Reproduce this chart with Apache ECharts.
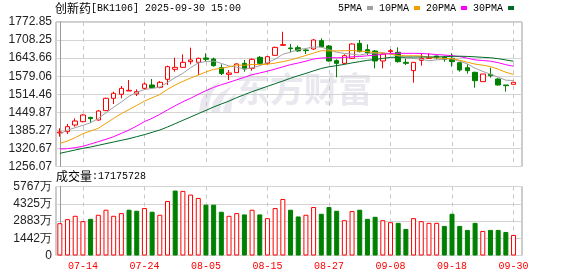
<!DOCTYPE html>
<html><head><meta charset="utf-8">
<script src="https://cdn.jsdelivr.net/npm/echarts@6/dist/echarts.min.js"></script>
<style>html,body{margin:0;padding:0;background:#fff}#c{width:578px;height:276px}</style>
</head><body><div id="c"></div>
<script>
const dates = ['07-09','07-10','07-11','07-14','07-15','07-16','07-17','07-18','07-21','07-22','07-23','07-24','07-25','07-28','07-29','07-30','07-31','08-01','08-04','08-05','08-06','08-07','08-08','08-11','08-12','08-13','08-14','08-15','08-18','08-19','08-20','08-21','08-22','08-25','08-26','08-27','08-28','08-29','09-01','09-02','09-03','09-04','09-05','09-08','09-09','09-10','09-11','09-12','09-15','09-16','09-17','09-18','09-19','09-22','09-23','09-24','09-25','09-26','09-29','09-30'];
const openP = [1376.0,1380.7,1404.5,1416.4,1431.9,1422.4,1455.8,1499.9,1514.2,1526.1,1515.4,1535.6,1547.6,1539.2,1567.8,1603.6,1610.7,1631.0,1628.6,1644.1,1640.5,1609.5,1585.7,1591.7,1625.0,1607.1,1646.5,1625.0,1653.6,1689.4,1679.9,1681.1,1672.7,1676.3,1706.1,1687.0,1634.6,1625.0,1642.9,1696.6,1673.9,1669.1,1633.4,1666.8,1664.4,1628.6,1598.8,1635.8,1643.0,1651.3,1646.5,1642.9,1627.4,1609.5,1592.9,1559.5,1585.7,1569.0,1547.6,1549.9];
const closeP = [1379.0,1398.6,1418.8,1440.3,1427.2,1454.6,1499.9,1517.8,1535.6,1528.5,1523.7,1551.1,1538.0,1557.1,1613.1,1610.7,1628.6,1636.9,1642.9,1639.3,1616.7,1588.5,1590.5,1622.7,1604.8,1639.3,1625.0,1648.9,1682.2,1691.8,1677.5,1669.5,1670.5,1708.5,1684.6,1633.4,1625.0,1652.4,1694.2,1666.8,1663.2,1633.4,1658.4,1670.3,1631.0,1625.0,1628.6,1642.9,1644.5,1645.5,1639.3,1631.0,1601.2,1598.8,1563.0,1586.9,1580.9,1547.6,1545.2,1557.1];
const lowP = [1362.8,1372.3,1398.6,1414.0,1412.8,1420.0,1454.6,1479.6,1499.9,1526.1,1508.2,1529.7,1535.6,1535.6,1547.6,1595.2,1609.5,1621.5,1583.3,1631.0,1613.1,1583.3,1565.4,1591.7,1595.2,1598.8,1621.5,1621.5,1652.4,1689.4,1664.4,1666.0,1658.4,1672.7,1682.2,1631.0,1575.0,1621.5,1640.5,1664.4,1654.8,1607.1,1607.1,1660.8,1627.4,1619.1,1555.9,1616.7,1641.0,1640.0,1631.0,1613.1,1595.2,1588.1,1538.0,1559.5,1573.8,1545.2,1523.7,1549.9];
const highP = [1392.6,1408.1,1428.4,1442.7,1433.1,1458.2,1502.3,1523.7,1544.0,1565.4,1532.1,1557.1,1569.0,1561.9,1616.7,1645.3,1657.2,1681.1,1645.3,1660.8,1645.3,1621.5,1601.2,1625.0,1636.9,1642.9,1651.3,1651.3,1684.6,1738.0,1694.2,1688.2,1675.1,1712.0,1714.4,1690.6,1639.3,1657.2,1696.6,1708.5,1693.0,1672.7,1660.8,1676.3,1682.2,1642.9,1630.0,1660.8,1660.8,1652.5,1652.5,1660.8,1628.6,1621.5,1595.2,1586.9,1609.5,1571.4,1547.6,1557.1];
const volWan = [2700,3038,3319,2869,3066,3404,3826,3319,3544,3826,3741,3966,3657,3404,4557,5429,5401,5092,4810,4248,4248,3657,3319,3544,3432,3826,3432,3122,3966,4726,3826,3263,3404,4051,3488,4051,3741,2954,3713,3826,3066,3235,2954,2785,2729,2222,3122,2869,2729,2729,2475,3488,2475,2138,2729,2053,2138,2138,1969,1717.5728];
const ma5 = [1373,1386,1395,1403,1412.8,1427.9,1448.2,1468.0,1487.0,1507.3,1521.1,1531.3,1535.4,1539.7,1556.6,1574.0,1589.5,1609.3,1626.4,1631.7,1632.9,1624.8,1615.5,1611.5,1604.6,1609.1,1616.2,1628.1,1640.0,1657.4,1665.1,1674.0,1678.2,1683.5,1683.0,1674.1,1664.4,1660.8,1657.9,1654.4,1660.3,1662.0,1663.2,1658.4,1651.3,1643.6,1642.7,1639.6,1634.4,1637.4,1640.2,1641.0,1632.7,1623.0,1607.4,1596.2,1586.2,1575.4,1564.7,1563.5];
const ma10 = [1338.9,1347.3,1359.2,1373.5,1383.1,1392.6,1410.5,1428.4,1445.0,1460.0,1474.5,1489.8,1501.7,1513.4,1531.9,1547.6,1560.4,1572.3,1583.1,1594.1,1603.4,1607.2,1612.4,1619.0,1618.1,1621.0,1620.6,1621.8,1625.8,1631.0,1637.1,1645.1,1653.2,1661.8,1670.2,1669.6,1669.6,1670.0,1671.2,1668.7,1667.2,1662.8,1662.0,1658.2,1652.8,1652.0,1652.3,1651.4,1646.5,1644.8,1642.4,1642.2,1636.1,1629.0,1622.2,1618.4,1613.6,1604.1,1593.3,1584.8];
const ma20 = [1318.7,1319.9,1323.5,1328.2,1336.6,1344.9,1353.3,1362.8,1374.7,1386.6,1400.9,1416.4,1428.4,1442.7,1458.2,1473.6,1487.9,1499.9,1514.2,1527.1,1539.0,1548.5,1557.0,1566.2,1575.0,1584.3,1590.5,1597.1,1604.4,1612.6,1620.3,1626.2,1632.8,1640.4,1644.0,1645.1,1644.9,1645.7,1648.3,1649.6,1652.0,1654.2,1657.6,1660.0,1661.3,1660.6,1660.8,1660.5,1658.6,1656.5,1654.6,1652.4,1649.0,1643.4,1637.3,1635.0,1632.8,1627.5,1620.1,1614.6];
const ma30 = [1303.2,1309.1,1315.1,1321.1,1325.8,1331.8,1337.8,1343.7,1349.7,1355.6,1362.8,1369.9,1378.3,1386.6,1397.4,1409.3,1421.2,1433.1,1445.0,1456.9,1468.9,1479.6,1490.3,1502.3,1513.0,1523.7,1533.2,1542.8,1552.3,1561.7,1571.7,1580.8,1589.1,1598.1,1606.7,1612.6,1616.8,1621.3,1626.6,1631.2,1635.8,1638.6,1642.6,1646.3,1646.9,1647.4,1647.4,1647.6,1647.7,1647.9,1648.7,1650.1,1650.5,1649.7,1648.3,1646.5,1645.1,1641.7,1637.1,1632.6];
const yTickLabels = ['1256.07','1320.67','1385.27','1449.87','1514.46','1579.06','1643.66','1708.25','1772.85'];
const volTickLabels = ['0','1442万','2883万','4325万','5767万'];
const xLabelIdx = [3,11,19,27,35,43,51,59];
const maNames = ['5PMA','10PMA','20PMA','30PMA'];
const maColors = ['#a0a0a0','#f0a000','#ff00ff','#006a28'];

const yMin = 1256.07, yMax = 1772.85, yInt = (yMax - yMin) / 8;
const volMax = 5767, volInt = volMax / 4;
const xMin = -0.5, xMax = 60.1;
const mono = 'Liberation Mono', cjk = 'Noto Sans CJK SC', sans = 'Liberation Sans';
const idx = dates.map((d, i) => i);

const candleData = idx.map(i => [i, openP[i], closeP[i], lowP[i], highP[i]]);
const volData = idx.map(i => {
  const up = i === 0 ? closeP[i] >= openP[i] : closeP[i] >= closeP[i - 1];
  return {
    value: [i, volWan[i]],
    itemStyle: up ? {color: '#ffffff', borderColor: '#ff0000', borderWidth: 1}
                  : {color: '#008000', borderColor: '#008000', borderWidth: 1}
  };
});
const maSeries = [ma5, ma10, ma20, ma30].map((arr, k) => ({
  type: 'line', name: maNames[k], xAxisIndex: 0, yAxisIndex: 0,
  data: idx.map(i => [i, arr[i]]), symbol: 'none', showSymbol: false,
  lineStyle: {width: 1, color: maColors[k]}, itemStyle: {color: maColors[k]}, z: 3
}));

const xBase = (gi, showLabel) => ({
  type: 'value', gridIndex: gi, min: xMin, max: xMax,
  axisLine: {show: false},
  axisTick: {show: false, customValues: xLabelIdx},
  axisLabel: {show: showLabel, customValues: xLabelIdx, formatter: v => dates[Math.round(v)] || '',
    color: '#ff0000', fontFamily: mono, fontSize: 10, margin: 6},
  splitLine: {show: true, lineStyle: {color: '#c8c8c8', type: [4, 4], width: 1}}
});

const richTxt = {a: {fontFamily: cjk, fontSize: 12, fontWeight: 'normal', color: '#000'},
                 b: {fontFamily: mono, fontSize: 10, fontWeight: 'normal', color: '#000'}};
const wm = '#e8e8ee';

const chart = echarts.init(document.getElementById('c'), null, {renderer: 'canvas'});
chart.setOption({
  animation: false,
  backgroundColor: '#ffffff',
  title: [
    {text: '{a|创新药}{b|[BK1106] 2025-09-30 15:00}', left: 55, top: 2, padding: 0,
     textStyle: {fontWeight: 'normal', rich: richTxt}},
    {text: '{a|成交量}{b|:' + Math.round(volWan[59] * 10000) + '}', left: 56, top: 170, padding: 0,
     textStyle: {fontWeight: 'normal', rich: richTxt}}
  ],
  legend: {
    left: 338, top: 3, padding: 0, align: 'right', itemWidth: 6, itemHeight: 4, itemGap: 6,
    selectedMode: false, textStyle: {fontFamily: mono, fontSize: 10, color: '#000'},
    data: maNames.map(n => ({name: n, icon: 'rect'}))
  },
  graphic: [
    {type: 'text', x: 236, y: 72, silent: true, z: -1,
     style: {text: '东方财富', font: 'bold 34px "Noto Sans CJK SC"', fill: wm}},
    {type: 'polygon', silent: true, z: -1, shape: {points: [[199,112],[201,100],[208,89],[222,80],[212,93],[209,103],[208,112]]}}, 
    {type: 'polygon', silent: true, z: -1, shape: {points: [[211,112],[213,102],[220,93],[232,86],[224,97],[221,105],[220,112]]}},
    {type: 'polygon', silent: true, z: -1, shape: {points: [[223,112],[225,104],[230,98],[236,94],[232,102],[231,112]]}}
  ].map(g => (g.type === 'polygon' ? Object.assign(g, {style: {fill: wm}}) : g)),
  grid: [
    {left: 56, top: 22, width: 466, height: 144.5, show: true, borderColor: '#999', borderWidth: 1, backgroundColor: 'transparent'},
    {left: 56, top: 186.5, width: 466, height: 69, show: true, borderColor: '#999', borderWidth: 1, backgroundColor: 'transparent'}
  ],
  xAxis: [xBase(0, false), xBase(1, true)],
  yAxis: [
    {type: 'value', gridIndex: 0, min: yMin, max: yMax, interval: yInt,
     axisLine: {show: true, lineStyle: {color: '#999'}}, axisTick: {show: false},
     axisLabel: {formatter: v => yTickLabels[Math.round((v - yMin) / yInt)] || '', color: '#222', fontFamily: sans, fontSize: 12, margin: 4},
     splitLine: {show: true, lineStyle: {color: '#d4d4d4', width: 1}}},
    {type: 'value', gridIndex: 1, min: 0, max: volMax, interval: volInt,
     axisLine: {show: true, lineStyle: {color: '#999'}}, axisTick: {show: false},
     axisLabel: {formatter: v => volTickLabels[Math.round(v / volInt)] || '', color: '#222', fontFamily: sans, fontSize: 12, margin: 4},
     splitLine: {show: true, lineStyle: {color: '#d4d4d4', width: 1}}}
  ],
  series: [
    {type: 'candlestick', name: 'K', xAxisIndex: 0, yAxisIndex: 0, data: candleData,
     encode: {x: 0, y: [1, 2, 3, 4]}, barWidth: 5, z: 2,
     itemStyle: {color: '#ffffff', color0: '#008000', borderColor: '#ff0000', borderColor0: '#008000', borderWidth: 1}},
    ...maSeries,
    {type: 'bar', name: 'VOL', xAxisIndex: 1, yAxisIndex: 1, data: volData, barWidth: 5}
  ]
});
</script></body></html>
